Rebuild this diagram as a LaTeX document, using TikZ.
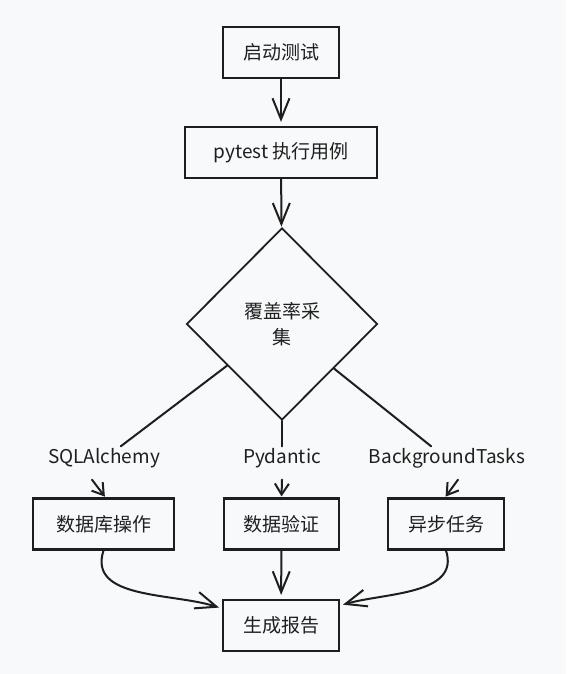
\documentclass[tikz,border=0pt]{standalone}
\usepackage{fontspec}
\setmainfont{Noto Sans CJK SC}
\usetikzlibrary{shapes.geometric,arrows.meta,calc}
\definecolor{paper}{HTML}{F8F9FA}
\definecolor{ink}{HTML}{1E1E1E}
\definecolor{txt}{HTML}{1F1F1F}
\begin{document}
\begin{tikzpicture}[x=1pt,y=-1pt,
  every node/.style={font=\fontsize{19}{26}\selectfont, text=txt},
  stepbox/.style={draw=ink, line width=2.1pt, minimum height=51pt, inner sep=0pt},
  decision/.style={diamond, draw=ink, line width=1.8pt, minimum width=191pt,
    minimum height=192pt, inner sep=0pt, aspect=1, align=center},
  tag/.style={inner xsep=2pt, inner ysep=4pt, text height=13pt, text depth=4pt},
  link/.style={draw=ink, line width=2pt, line cap=round},
  arr/.style={link, -{Straight Barb[length=21pt,width=17pt]}, shorten >=4pt},
  shortarr/.style={link, -{Straight Barb[length=11pt,width=14pt]}, shorten >=1pt}
]
% canvas
\fill[paper] (0,0) rectangle (566,674);
\useasboundingbox (0,0) rectangle (566,674);

% main column
\node[stepbox, minimum width=116pt] (start) at (281,52.5) {启动测试};
\node[stepbox, minimum width=192pt] (pytest) at (281,152.5) {pytest 执行用例};
\node[decision] (cov) at (282,324) {覆盖率采\\集};

% branch labels
\node[tag] (sqlLab) at (104,459) {SQLAlchemy};
\node[tag] (pyLab) at (282,459) {Pydantic};
\node[tag] (bgLab) at (447,459) {BackgroundTasks};

% branch steps
\node[stepbox, minimum width=141pt] (db) at (103.5,524) {数据库操作};
\node[stepbox, minimum width=115pt] (valid) at (281.5,524) {数据验证};
\node[stepbox, minimum width=116pt] (async) at (446,524) {异步任务};

% report
\node[stepbox, minimum width=116pt] (report) at (281,625.5) {生成报告};

% connectors
\draw[arr] (start) -- (pytest);
\draw[arr, shorten >=1pt] (pytest) -- (cov);

\draw[link] ($(cov.west)!0.43!(cov.south)$) -- (sqlLab);
\draw[link] (cov.south) -- (pyLab);
\draw[link] ($(cov.east)!0.46!(cov.south)$) -- (bgLab);

\draw[shortarr] ([xshift=-12pt,yshift=-8pt]sqlLab.south) -- ([xshift=2pt]db.north);
\draw[shortarr] ([yshift=-8pt]pyLab.south) -- (valid.north);
\draw[shortarr] ([xshift=11pt,yshift=-8pt]bgLab.south) -- ([xshift=-1pt]async.north);

\draw[arr, shorten >=3pt] (db.south) to[out=-108, in=162] ([yshift=17pt]report.west);
\draw[arr] (valid) -- (report);
\draw[arr, shorten >=3pt] (async.south) to[out=-72, in=16] ([yshift=20pt]report.east);
\end{tikzpicture}
\end{document}
